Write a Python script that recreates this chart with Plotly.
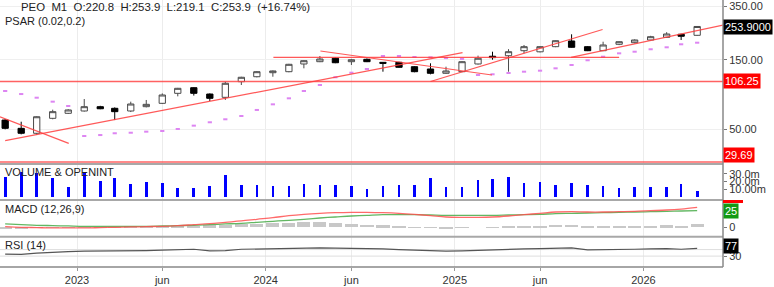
import pandas as pd
import numpy as np
import plotly.graph_objects as go
from plotly.subplots import make_subplots

# ---------------- data ----------------
dates = list(pd.date_range('2022-08-01', periods=45, freq='MS') + pd.Timedelta(days=14))

opens = [57.7, 50.6, 46.8, 59.3, 64.2, 66.6, 71.3, 69.5, 66.6, 71.3,
         75.2, 88.1, 96.3, 87.1, 82.7, 105.9, 114.6, 122.1, 124.1, 140.2,
         145.4, 153.5, 145.4, 151.0, 143.9, 143.9, 134.3, 129.5, 121.0, 124.1,
         140.2, 158.5, 159.8, 173.0, 170.0, 184.4, 201.8, 184.4, 173.0, 191.5,
         196.4, 205.0, 213.9, 224.3, 220.8]
highs = [58.5, 56.2, 61.2, 68.0, 68.5, 80.5, 72.3, 70.5, 77.2, 79.3,
         88.0, 96.0, 97.0, 88.0, 105.9, 114.5, 125.0, 126.5, 140.5, 148.5,
         159.1, 155.0, 152.0, 153.0, 144.5, 145.0, 135.5, 141.7, 134.3, 146.5,
         160.0, 170.3, 177.3, 189.4, 185.5, 203.5, 224.3, 186.0, 199.5, 200.5,
         207.0, 219.0, 232.0, 226.0, 253.9]
lows = [49.8, 46.0, 45.8, 58.4, 63.5, 66.0, 68.5, 57.7, 65.5, 70.5,
        74.5, 84.0, 85.0, 78.0, 79.3, 100.5, 113.5, 114.6, 123.0, 130.9,
        144.5, 142.0, 138.0, 144.5, 124.1, 132.0, 123.0, 119.0, 120.0, 123.5,
        139.0, 150.0, 124.1, 166.0, 168.5, 183.0, 181.5, 172.0, 172.0, 189.0,
        194.5, 204.0, 212.5, 205.0, 219.1]
closes = [50.6, 46.8, 60.8, 65.9, 67.7, 71.3, 69.0, 65.9, 74.4, 74.0,
          85.8, 95.4, 88.1, 81.4, 103.3, 113.6, 124.1, 125.5, 139.5, 147.7,
          151.7, 143.0, 150.0, 145.4, 141.7, 133.0, 124.1, 121.0, 125.5, 145.4,
          153.5, 155.0, 170.3, 184.4, 184.4, 202.7, 182.6, 173.0, 189.4, 199.5,
          205.0, 216.0, 225.4, 217.5, 253.9]

psar = [91.4, 87.1, 82.2, 77.2, 72.1, 44.8, 45.5, 46.8, 47.2, 48.0,
        48.5, 50.1, 52.8, 55.7, 58.4, 61.5, 67.7, 74.0, 81.4, 91.4,
        100.5, 113.6, 122.1, 129.5, 159.1, 159.1, 156.6, 155.8, 154.0, 152.0,
        117.8, 119.1, 121.5, 124.1, 126.1, 130.9, 138.0, 148.7, 157.4, 166.0,
        170.3, 177.0, 182.6, 191.5, 196.4]

volume_m = [26.4, 32.9, 30.8, 24.3, 13.4, 30.8, 21.2, 24.3, 16.9, 19.1,
            17.8, 12.1, 12.1, 14.3, 28.6, 15.6, 15.6, 14.3, 14.7, 16.9,
            15.6, 15.6, 14.7, 10.4, 14.7, 15.6, 15.6, 25.1, 13.4, 13.4,
            22.1, 23.4, 26.4, 17.8, 19.9, 15.6, 17.8, 15.6, 14.7, 11.3,
            13.4, 13.4, 13.4, 16.9, 7.8]

macd = [1.0, 0.0, -0.5, -1.0, -1.0, -1.0, -0.5, 0.0, 0.5, 1.0,
        1.5, 2.5, 4.0, 5.5, 7.5, 9.5, 12.0, 14.5, 17.5, 19.5,
        21.0, 22.0, 22.5, 22.5, 22.0, 21.0, 19.5, 17.5, 15.5, 15.0,
        15.0, 15.5, 17.0, 19.0, 21.0, 23.0, 23.5, 23.0, 23.0, 23.5,
        24.0, 25.0, 26.0, 27.5, 30.0]
signal = [5.0, 4.0, 3.0, 2.5, 2.0, 1.5, 1.5, 1.5, 1.5, 1.5,
          2.0, 2.5, 3.0, 4.0, 5.0, 6.0, 7.5, 9.0, 10.5, 12.0,
          14.0, 15.5, 17.0, 18.0, 19.0, 19.0, 19.0, 18.5, 18.0, 18.0,
          18.0, 18.0, 18.5, 19.0, 19.5, 20.5, 21.0, 21.5, 22.0, 22.5,
          23.0, 23.5, 24.0, 24.5, 25.0]
hist = [-3.0, -2.0, -0.5, 0.3, 0.3, 0.3, 0.3, 0.3, 0.5, 0.8,
        2.0, 2.0, 2.5, 3.0, 3.0, 4.5, 4.5, 7.0, 7.0, 8.5,
        8.5, 6.0, 5.0, 4.0, 3.0, 2.0, 0.3, -1.0, -1.5, -1.0,
        0.0, 0.3, 1.0, 2.0, 2.5, 4.0, 4.0, 1.5, 1.5, 1.5,
        2.5, 2.5, 3.0, 2.5, 4.5]

rsi = [42, 40, 48, 55, 58, 60, 60, 60, 62, 64,
       66, 70, 72, 62, 64, 72, 74, 76, 78, 79,
       80, 79, 78, 76, 74, 70, 66, 62, 60, 62,
       66, 70, 72, 74, 76, 78, 80, 68, 68, 70,
       72, 74, 76, 72, 77]

# trendlines: (date0, price0, date1, price1)
trend_lines = [
    ('2022-08-15', 41.6, '2025-01-16', 167.6),
    ('2022-08-05', 60.8, '2022-12-16', 39.9),
    ('2024-01-16', 155.8, '2025-11-15', 155.8),
    ('2024-04-16', 172.2, '2025-03-14', 117.8),
    ('2024-11-15', 106.25, '2025-10-14', 242.1),
    ('2025-08-14', 155.8, '2026-06-04', 259.1),
]
h_levels = [106.25, 29.69]

x_range = ['2022-08-05', '2026-06-04']
tick_vals = ['2023-01-01', '2023-06-15', '2024-01-01', '2024-06-15', '2025-01-01', '2025-06-15', '2026-01-01']
tick_text = ['2023', 'jun', '2024', 'jun', '2025', 'jun', '2026']

price_ticks = [50, 150, 350]
price_tick_text = ['50.00', '150.00', '350.00']

FONT = 'Liberation Sans, Arial, sans-serif'
W, H = 774, 287
PLOT_H = 267.0

fig = make_subplots(rows=4, cols=1, shared_xaxes=True, vertical_spacing=0,
                    row_heights=[164, 36, 36.7, 30.3])

# candles
fig.add_trace(go.Candlestick(
    x=dates, open=opens, high=highs, low=lows, close=closes,
    increasing=dict(line=dict(color='#4a4a4a', width=1), fillcolor='#ffffff'),
    decreasing=dict(line=dict(color='#000000', width=1), fillcolor='#000000'),
    whiskerwidth=0, showlegend=False, hoverinfo='skip'), row=1, col=1)

# PSAR
fig.add_trace(go.Scatter(x=dates, y=psar, mode='markers', showlegend=False,
                         marker=dict(symbol='line-ew', size=3,
                                     line=dict(width=2, color='#dd85f2'))), row=1, col=1)

# horizontal levels
for lv in h_levels:
    fig.add_trace(go.Scatter(x=x_range, y=[lv, lv], mode='lines', showlegend=False,
                             line=dict(color='rgba(255,70,70,0.85)', width=1.6)), row=1, col=1)
# trendlines
for d0, p0, d1, p1 in trend_lines:
    fig.add_trace(go.Scatter(x=[d0, d1], y=[p0, p1], mode='lines', showlegend=False,
                             line=dict(color='rgba(255,60,60,0.85)', width=1.2)), row=1, col=1)

# volume
fig.add_trace(go.Bar(x=dates, y=[v * 1e6 for v in volume_m], marker_color='#0000ff',
                     marker_line_width=0, width=4.5e8, showlegend=False), row=2, col=1)

# MACD
fig.add_trace(go.Bar(x=dates, y=hist, marker_color='#c8c8c8', marker_line_width=0,
                     width=2.2e9, showlegend=False), row=3, col=1)
fig.add_trace(go.Scatter(x=dates, y=signal, mode='lines', showlegend=False,
                         line=dict(color='rgba(70,170,70,0.85)', width=1.3, shape='spline')), row=3, col=1)
fig.add_trace(go.Scatter(x=dates, y=macd, mode='lines', showlegend=False,
                         line=dict(color='rgba(255,80,80,0.85)', width=1.3, shape='spline')), row=3, col=1)

# RSI
for lv in [70, 30]:
    fig.add_trace(go.Scatter(x=x_range, y=[lv, lv], mode='lines', showlegend=False,
                             line=dict(color='#dedede', width=1)), row=4, col=1)
fig.add_trace(go.Scatter(x=dates, y=rsi, mode='lines', showlegend=False,
                         line=dict(color='#555555', width=1.2)), row=4, col=1)

# axes
fig.update_xaxes(range=x_range, tickmode='array', tickvals=tick_vals, ticktext=tick_text,
                 showgrid=True, gridcolor='#ececec', gridwidth=1, zeroline=False,
                 showline=False, rangeslider_visible=False,
                 tickfont=dict(family=FONT, size=11, color='#333'))
fig.update_xaxes(showticklabels=False, ticks='', row=1, col=1)
fig.update_xaxes(showticklabels=False, ticks='', row=2, col=1)
fig.update_xaxes(showticklabels=False, ticks='', row=3, col=1)
fig.update_xaxes(showticklabels=True, ticks='outside', ticklen=3, tickcolor='#999', row=4, col=1)

common_y = dict(side='right', zeroline=False, showline=False, ticks='outside', ticklen=3,
                tickcolor='#777', tickfont=dict(family=FONT, size=11, color='#333'))
fig.update_yaxes(type='log', range=[1.4589, 2.5868], tickmode='array', tickvals=price_ticks,
                 ticktext=price_tick_text, showgrid=True, gridcolor='#efefef', row=1, col=1, **common_y)
fig.update_yaxes(range=[-3.9e6, 42.9e6], tickmode='array', tickvals=[10e6, 20e6, 30e6],
                 ticktext=['10.00m', '20.0m', '30.0m'], showgrid=False, row=2, col=1, **common_y)
fig.update_yaxes(range=[-14.2, 41.1], tickmode='array', tickvals=[0], ticktext=['0'],
                 showgrid=False, row=3, col=1, **common_y)
fig.update_yaxes(range=[-36.7, 148.8], tickmode='array', tickvals=[30], ticktext=['30'],
                 showgrid=False, row=4, col=1, **common_y)


def py(p):
    return 1 - p / PLOT_H


shapes = []
for yy in [164, 200, 236.7]:
    shapes.append(dict(type='line', xref='paper', yref='paper', x0=0, x1=1, y0=py(yy), y1=py(yy),
                       line=dict(color='#a8a8a8', width=2)))
shapes.append(dict(type='line', xref='paper', yref='paper', x0=0, x1=1, y0=0, y1=0,
                   line=dict(color='#888', width=1.5)))
shapes.append(dict(type='line', xref='paper', yref='paper', x0=1, x1=1, y0=0, y1=1,
                   line=dict(color='#888', width=1.5)))
# clipped MACD value box peeking above the signal box
shapes.append(dict(type='rect', xref='paper', yref='paper', x0=1, x1=1 + 20 / 723,
                   y0=py(203), y1=py(200), fillcolor='#ff0000', line=dict(width=0)))

ann = []
lab = dict(family=FONT, size=11, color='#222')
ann.append(dict(xref='paper', yref='paper', x=19 / 723, y=py(7.5), xanchor='left', yanchor='middle',
                text='PEO\u00a0 M1\u00a0 O:220.8\u00a0 H:253.9\u00a0 L:219.1\u00a0 C:253.9\u00a0 (+16.74%)',
                showarrow=False, font=dict(family=FONT, size=11.4, color='#222')))
ann.append(dict(xref='paper', yref='paper', x=3 / 723, y=py(21), xanchor='left', yanchor='middle',
                text='PSAR (0.02,0.2)', showarrow=False, font=lab))
ann.append(dict(xref='paper', yref='paper', x=3 / 723, y=py(172), xanchor='left', yanchor='middle',
                text='VOLUME & OPENINT', showarrow=False, font=lab))
ann.append(dict(xref='paper', yref='paper', x=3 / 723, y=py(209), xanchor='left', yanchor='middle',
                text='MACD (12,26,9)', showarrow=False, font=lab))
ann.append(dict(xref='paper', yref='paper', x=3 / 723, y=py(245), xanchor='left', yanchor='middle',
                text='RSI (14)', showarrow=False, font=lab))

box_font = dict(family=FONT, size=11, color='#ffffff')
ann.append(dict(xref='paper', yref='y', x=1, y=np.log10(closes[-1]), xanchor='left', yanchor='middle',
                text='253.9000', showarrow=False, bgcolor='#000000', font=box_font, borderpad=1, yshift=-1))
ann.append(dict(xref='paper', yref='y', x=1, y=np.log10(h_levels[0]), xanchor='left', yanchor='middle',
                text='106.25', showarrow=False, bgcolor='#ff0000', font=box_font, borderpad=1))
ann.append(dict(xref='paper', yref='y', x=1, y=np.log10(h_levels[1]), xanchor='left', yanchor='middle',
                text='29.69', showarrow=False, bgcolor='#ff0000', font=box_font, borderpad=1, yshift=7))
ann.append(dict(xref='paper', yref='y3', x=1, y=signal[-1], xanchor='left', yanchor='middle',
                text='25', showarrow=False, bgcolor='#139a13', font=box_font, borderpad=1))
ann.append(dict(xref='paper', yref='y4', x=1, y=rsi[-1], xanchor='left', yanchor='middle',
                text='77', showarrow=False, bgcolor='#000000', font=box_font, borderpad=1, yshift=2))

fig.update_layout(width=W, height=H, margin=dict(l=0, r=51, t=0, b=20),
                  paper_bgcolor='#ffffff', plot_bgcolor='#ffffff', boxgap=0.38,
                  bargap=0, showlegend=False, shapes=shapes, annotations=ann,
                  font=dict(family=FONT, size=11, color='#333'))

fig.write_html('out.html')
